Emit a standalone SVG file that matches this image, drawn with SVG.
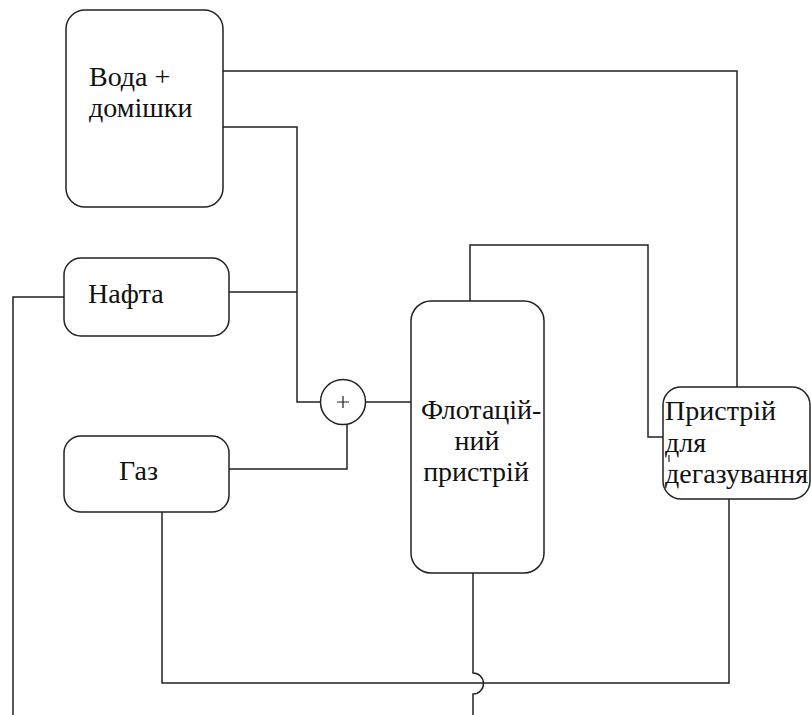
<svg xmlns="http://www.w3.org/2000/svg" width="811" height="715" viewBox="0 0 811 715">
<style>
.box{fill:#fff;stroke:#222;stroke-width:1.5}
.ln{fill:none;stroke:#222;stroke-width:1.5}
.t{font-family:'Liberation Serif','Times New Roman',serif;font-size:28px;fill:#111}
</style>
<rect width="811" height="715" fill="#fff"/>
<g id="connectors">
<path class="ln" d="M223,71 H737 V387"/>
<path class="ln" d="M223,127 H297 V402 H321"/>
<path class="ln" d="M229,292 H297"/>
<path class="ln" d="M64,297 H13 V715"/>
<path class="ln" d="M366,402 H411"/>
<path class="ln" d="M229,469 H347 V425"/>
<path class="ln" d="M470,301 V245 H648 V437 H663"/>
<path class="ln" d="M162,512 V683 H729 V499"/>
<path class="ln" d="M473,573 V673 A10.5,10.5 0 0 1 473,694 V715"/>
</g>
<g id="voda">
<rect class="box" x="66" y="10" width="157" height="197" rx="19"/>
<text class="t" x="89" y="86">Вода +</text>
<text class="t" x="89" y="117">домішки</text>
</g>
<g id="nafta">
<rect class="box" x="64" y="258" width="165" height="78" rx="17"/>
<text class="t" x="88" y="303">Нафта</text>
</g>
<g id="gaz">
<rect class="box" x="64" y="436" width="165" height="76" rx="17"/>
<text class="t" x="119" y="480">Газ</text>
</g>
<g id="mixer">
<circle class="box" cx="343" cy="402" r="22.5"/>
<path class="ln" d="M337,402 H349 M343,396 V408" style="stroke-width:1.2"/>
</g>
<g id="flot">
<rect class="box" x="411" y="301" width="133" height="272" rx="20"/>
<text class="t" x="421" y="419">Флотацій-</text>
<text class="t" x="477" y="450" text-anchor="middle">ний</text>
<text class="t" x="476" y="481" text-anchor="middle">пристрій</text>
</g>
<g id="degas">
<rect class="box" x="663" y="387" width="147" height="112" rx="18"/>
<text class="t" x="665" y="420">Пристрій</text>
<text class="t" x="665" y="452">для</text>
<text class="t" x="665" y="483">дегазування</text>
<line class="ln" x1="669" y1="455" x2="669" y2="462" style="stroke-width:1.2"/>
</g>
</svg>
